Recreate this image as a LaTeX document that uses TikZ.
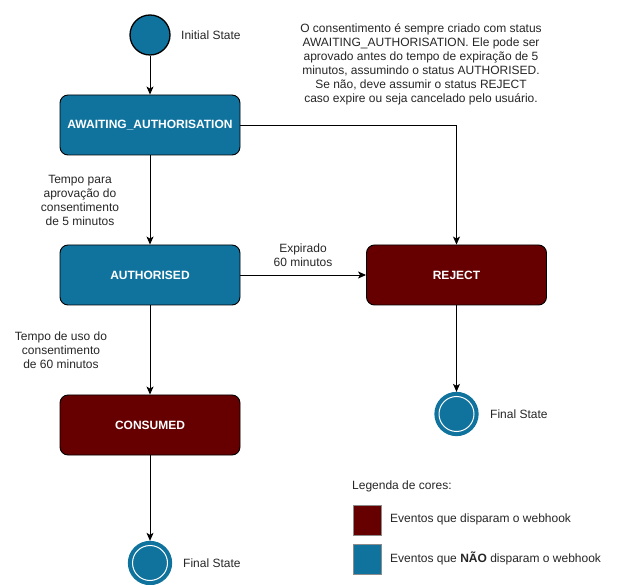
\documentclass[tikz,border=0pt]{standalone}
\usepackage{fontspec}
\setmainfont{Liberation Sans}
\usetikzlibrary{arrows.meta}
\definecolor{stblue}{HTML}{10739E}
\definecolor{stred}{HTML}{660000}
\tikzset{
  every node/.style={font=\fontsize{12}{14}\selectfont},
  statebox/.style={draw=black, line width=0.9pt, rounded corners=8pt, minimum width=180pt, minimum height=60pt, inner sep=0pt, text=white, font=\fontsize{12}{14}\selectfont\bfseries},
  bluebox/.style={statebox, fill=stblue},
  redbox/.style={statebox, fill=stred},
  conn/.style={draw=black, line width=0.9pt, -{Stealth[length=8pt,width=7pt,inset=2pt]}},
  lbl/.style={align=center, inner sep=0pt, text=black!85},
  sidelbl/.style={anchor=west, inner sep=0pt, text=black!85},
  initstate/.style={circle, fill=stblue, draw=black, line width=1.3pt, minimum size=40pt, inner sep=0pt},
  finalstate/.style={circle, fill=stblue, draw=stblue, line width=1.3pt, minimum size=43pt, inner sep=0pt},
  swatch/.style={draw=black!45, line width=0.6pt, minimum width=28pt, minimum height=30pt, inner sep=0pt}
}
\begin{document}
\begin{tikzpicture}[x=1pt, y=-1pt]
\useasboundingbox (0,0) rectangle (627,585);
% states
\node[initstate] (init) at (150,35) {};
\node[sidelbl] (initlbl) at (181,35) {Initial State};
\node[bluebox] (await) at (150,125) {AWAITING\_AUTHORISATION};
\node[bluebox] (auth) at (150,275) {AUTHORISED};
\node[redbox] (reject) at (456.5,275) {REJECT};
\node[redbox] (consumed) at (150,425) {CONSUMED};
\node[finalstate] (fin1) at (456.5,414) {};
\draw[white, line width=1pt] (fin1.center) circle (17.5pt);
\node[sidelbl] (fin1lbl) at (490,414) {Final State};
\node[finalstate] (fin2) at (150,563) {};
\draw[white, line width=1pt] (fin2.center) circle (17.5pt);
\node[sidelbl] (fin2lbl) at (183,563) {Final State};
% note
\node[lbl] (note) at (421,64) {O consentimento é sempre criado com status\\AWAITING\_AUTHORISATION. Ele pode ser\\aprovado antes do tempo de expiração de 5\\minutos, assumindo o status AUTHORISED.\\Se não, deve assumir o status REJECT\\caso expire ou seja cancelado pelo usuário.};
% connectors
\coordinate (corner) at (456.5,125);
\draw[conn] (init) -- (await);
\draw[conn] (await) -- (auth);
\draw[conn] (await.east) -- (corner) -- (reject.north);
\draw[conn] (auth) -- (reject);
\draw[conn] (auth) -- (consumed);
\draw[conn] (reject) -- (fin1);
\draw[conn] (consumed) -- (fin2);
% labels
\node[lbl] (l1) at (80,200) {Tempo para\\aprovação do\\consentimento\\de 5 minutos};
\node[lbl] (l2) at (303,255) {Expirado\\60 minutos};
\node[lbl] (l3) at (61,350) {Tempo de uso do\\consentimento\\de 60 minutos};
% legend
\node[sidelbl] (leg) at (352,486) {Legenda de cores:};
\node[swatch, fill=stred] (sw1) at (367,520.5) {};
\node[sidelbl] (sw1lbl) at (390,519) {Eventos que disparam o webhook};
\node[swatch, fill=stblue] (sw2) at (367,559) {};
\node[sidelbl] (sw2lbl) at (390,558) {Eventos que \textbf{NÃO} disparam o webhook};
\end{tikzpicture}
\end{document}
